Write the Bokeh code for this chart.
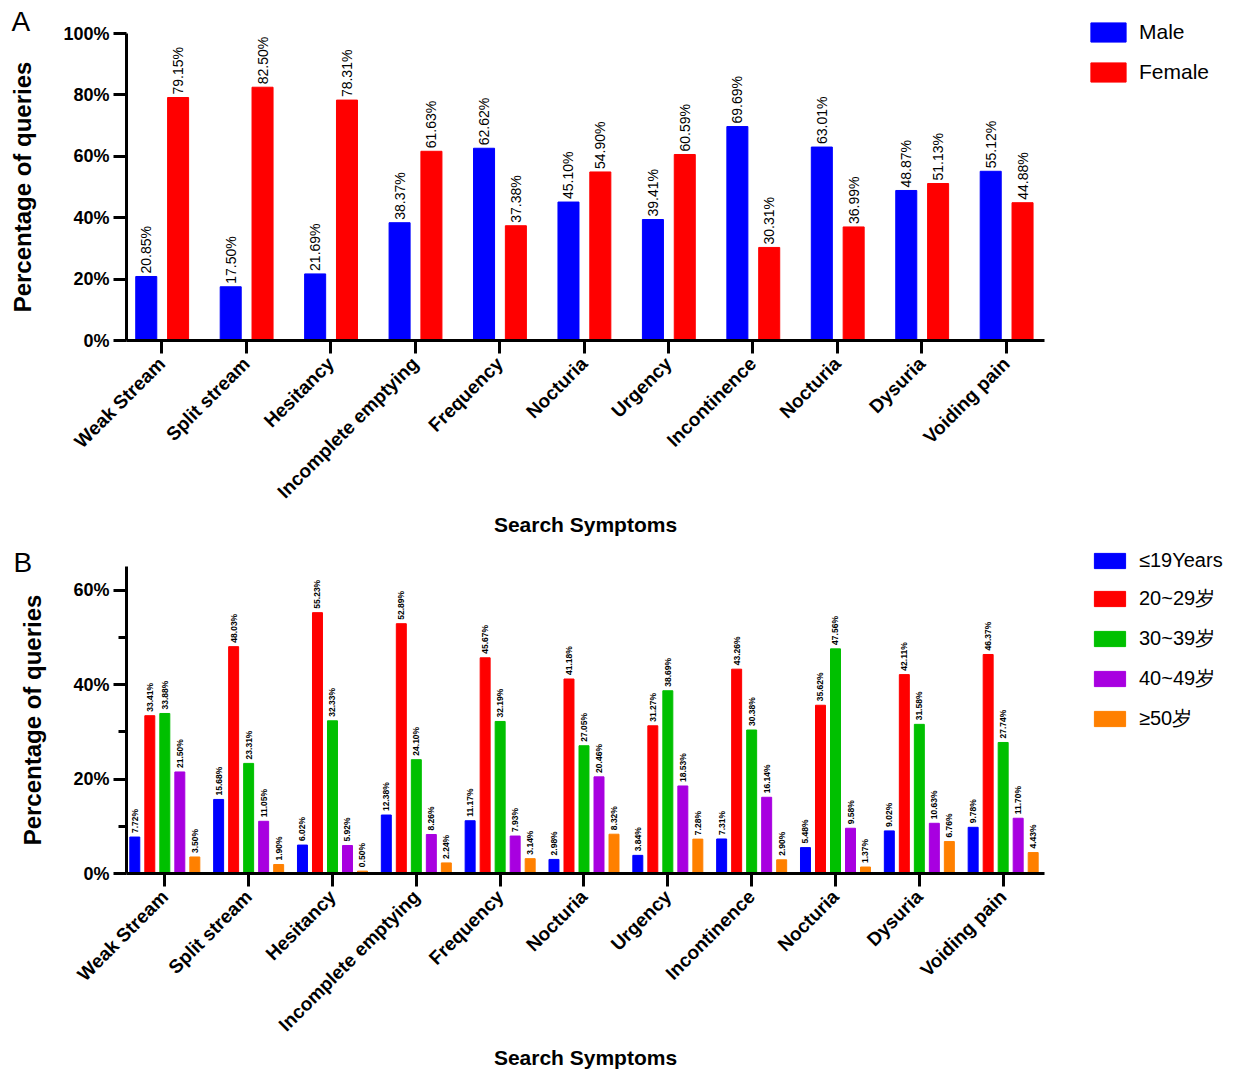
import math
from bokeh.plotting import figure
from bokeh.models import (ColumnDataSource, FixedTicker, Legend, LegendItem, LabelSet,
                          Range1d, PrintfTickFormatter, Title)
from bokeh.core.properties import value
from bokeh.transform import dodge
from bokeh.layouts import column
from bokeh.embed import file_html
from bokeh.resources import INLINE

# ---------------- data ----------------
symptoms = ["Weak Stream", "Split stream", "Hesitancy", "Incomplete emptying", "Frequency",
            "Nocturia", "Urgency", "Incontinence", "Nocturia", "Dysuria", "Voiding pain"]

male = [20.85, 17.50, 21.69, 38.37, 62.62, 45.10, 39.41, 69.69, 63.01, 48.87, 55.12]
female = [79.15, 82.50, 78.31, 61.63, 37.38, 54.90, 60.59, 30.31, 36.99, 51.13, 44.88]

age_groups = ["≤19Years", "20~29岁", "30~39岁", "40~49岁", "≥50岁"]
age_u19 = [7.72, 15.68, 6.02, 12.38, 11.17, 2.98, 3.84, 7.31, 5.48, 9.02, 9.78]
age_20_29 = [33.41, 48.03, 55.23, 52.89, 45.67, 41.18, 31.27, 43.26, 35.62, 42.11, 46.37]
age_30_39 = [33.88, 23.31, 32.33, 24.10, 32.19, 27.05, 38.69, 30.38, 47.56, 31.58, 27.74]
age_40_49 = [21.50, 11.05, 5.92, 8.26, 7.93, 20.46, 18.53, 16.14, 9.58, 10.63, 11.70]
age_50_up = [3.50, 1.90, 0.50, 2.24, 3.14, 8.32, 7.28, 2.90, 1.37, 6.76, 4.43]

ticks_a = [0, 20, 40, 60, 80, 100]
ticks_b = [0, 20, 40, 60]
minor_b = [10, 30, 50]

FONT = "Arial"
BLUE, RED, GREEN, PURPLE, ORANGE = "#0000FF", "#FF0000", "#00C000", "#A800E0", "#FF8000"


def style_axes(p, yticks, yminor):
    p.xgrid.visible = False
    p.ygrid.visible = False
    p.outline_line_color = None
    p.background_fill_color = "white"
    for ax in (p.xaxis[0], p.yaxis[0]):
        ax.axis_line_width = 3
        ax.axis_line_color = "black"
        ax.major_tick_line_width = 3
        ax.major_tick_line_color = "black"
        ax.major_tick_out = 13
        ax.major_tick_in = 0
        ax.minor_tick_line_width = 3
        ax.minor_tick_line_color = "black"
        ax.minor_tick_out = 8
        ax.minor_tick_in = 0
        ax.major_label_text_font = FONT
        ax.major_label_text_font_style = "bold"
        ax.major_label_text_color = "black"
        ax.axis_label_text_font = FONT
        ax.axis_label_text_font_style = "bold"
        ax.axis_label_text_color = "black"
    xa = p.xaxis[0]
    xa.ticker = FixedTicker(ticks=list(range(len(symptoms))), minor_ticks=[])
    xa.major_label_overrides = {i: s for i, s in enumerate(symptoms)}
    xa.major_label_orientation = math.pi / 4
    xa.major_label_text_font_size = "19px"
    xa.major_label_standoff = 7
    xa.axis_label = "Search Symptoms"
    xa.axis_label_text_font_size = "21px"
    xa.axis_label_standoff = 0
    ya = p.yaxis[0]
    ya.ticker = FixedTicker(ticks=yticks, minor_ticks=yminor)
    ya.formatter = PrintfTickFormatter(format="%d%%")
    ya.major_label_text_font_size = "18px"
    ya.major_label_standoff = 4
    ya.axis_label = "Percentage of queries"
    ya.axis_label_text_font_size = "24px"
    ya.axis_label_standoff = 24


def add_letter(p, letter, offset, standoff):
    p.add_layout(Title(text=letter, align="left", offset=offset, standoff=standoff,
                       vertical_align="bottom",
                       text_font=FONT, text_font_style="normal", text_font_size="28px",
                       text_color="black"), "above")


# ---------------- panel A ----------------
src_a = ColumnDataSource(dict(
    idx=list(range(len(symptoms))),
    male=male, female=female,
    male_lbl=[f"{v:.2f}%" for v in male],
    female_lbl=[f"{v:.2f}%" for v in female],
))

pA = figure(frame_width=918, frame_height=307,
            x_range=Range1d(-0.418, 10.453), y_range=Range1d(0, 100),
            output_backend="svg", toolbar_location=None,
            min_border_left=126, min_border_right=180, min_border_top=33, min_border_bottom=180)

offs_a = [-0.184, 0.193]
ra_m = pA.vbar(x=dodge("idx", offs_a[0], range=pA.x_range), top="male", width=0.249, bottom=0,
               source=src_a, fill_color=BLUE, line_color=BLUE, line_width=1)
ra_f = pA.vbar(x=dodge("idx", offs_a[1], range=pA.x_range), top="female", width=0.249, bottom=0,
               source=src_a, fill_color=RED, line_color=RED, line_width=1)

for off, col, lab in ((offs_a[0], "male", "male_lbl"), (offs_a[1], "female", "female_lbl")):
    pA.add_layout(LabelSet(x=dodge("idx", off, range=pA.x_range), y=col, text=lab, source=src_a,
                           angle=math.pi / 2, text_align="left", text_baseline="middle",
                           y_offset=3, text_font=value(FONT), text_font_size="14px",
                           text_color="black"))

style_axes(pA, ticks_a, [])

leg_a = Legend(items=[LegendItem(label="Male", renderers=[ra_m]),
                      LegendItem(label="Female", renderers=[ra_f])],
               location=(42, 256), orientation="vertical",
               glyph_width=44, glyph_height=24, label_height=19, label_standoff=9,
               spacing=16, padding=0, margin=0,
               label_text_font=FONT, label_text_font_size="21px", label_text_color="black",
               border_line_color=None, background_fill_alpha=0)
pA.add_layout(leg_a, "right")
add_letter(pA, "A", -115, -7)

# ---------------- panel B ----------------
src_b = ColumnDataSource(dict(
    idx=list(range(len(symptoms))),
    a1=age_u19, a2=age_20_29, a3=age_30_39, a4=age_40_49, a5=age_50_up,
    l1=[f"{v:.2f}%" for v in age_u19],
    l2=[f"{v:.2f}%" for v in age_20_29],
    l3=[f"{v:.2f}%" for v in age_30_39],
    l4=[f"{v:.2f}%" for v in age_40_49],
    l5=[f"{v:.2f}%" for v in age_50_up],
))

pB = figure(frame_width=918, frame_height=307,
            x_range=Range1d(-0.457, 10.493), y_range=Range1d(0, 65),
            output_backend="svg", toolbar_location=None,
            min_border_left=124, min_border_right=180, min_border_top=28, min_border_bottom=180)

offsets = [-0.358, -0.179, 0.0, 0.179, 0.358]
colors = [BLUE, RED, GREEN, PURPLE, ORANGE]
rends_b = []
for k, (off, colr) in enumerate(zip(offsets, colors), start=1):
    r = pB.vbar(x=dodge("idx", off, range=pB.x_range), top=f"a{k}", width=0.119, bottom=0,
                source=src_b, fill_color=colr, line_color=colr, line_width=1)
    rends_b.append(r)
    pB.add_layout(LabelSet(x=dodge("idx", off, range=pB.x_range), y=f"a{k}", text=f"l{k}",
                           source=src_b, angle=math.pi / 2, text_align="left",
                           text_baseline="middle", y_offset=4, text_font=value(FONT),
                           text_font_style="bold", text_font_size="8.5px",
                           text_color="black"))

style_axes(pB, ticks_b, minor_b)

leg_b = Legend(items=[LegendItem(label=g, renderers=[r]) for g, r in zip(age_groups, rends_b)],
               location=(46, 141), orientation="vertical",
               glyph_width=39, glyph_height=19, label_height=15, label_standoff=10,
               spacing=13, padding=0, margin=0,
               label_text_font=FONT, label_text_font_size="20px", label_text_color="black",
               border_line_color=None, background_fill_alpha=0)
pB.add_layout(leg_b, "right")
add_letter(pB, "B", -113, -23)

layout = column(pA, pB, spacing=0)
open("out.html", "w").write(file_html(layout, INLINE))
